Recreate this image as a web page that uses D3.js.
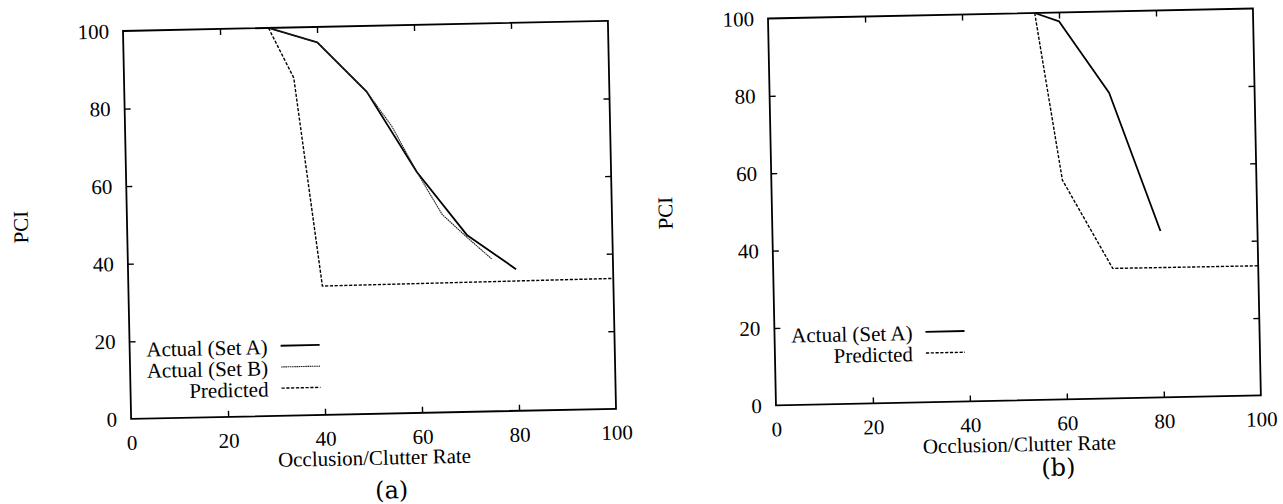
<!DOCTYPE html>
<html>
<head>
<meta charset="utf-8">
<script src="https://cdn.jsdelivr.net/npm/d3@7"></script>
<style>
  html, body { margin: 0; background: #fff; }
  svg text { font-family: "Liberation Serif", "Times New Roman", serif; fill: #000; }
</style>
</head>
<body>
<svg id="chart" width="1283" height="504"></svg>
<script>
// ---------- Data ----------
const xTicks = [0, 20, 40, 60, 80, 100];
const yTicks = [0, 20, 40, 60, 80, 100];

// panel (a)
const aSetA_x = [30, 40, 50, 60, 70, 80];
const aSetA_y = [100, 96, 83, 62, 45.6, 36.5];
const aSetB_x = [30, 40, 50, 55, 60, 65, 70, 75];
const aSetB_y = [100, 96, 83, 74, 62, 51, 45, 39.3];
const aPred_x = [30, 35, 40, 100];
const aPred_y = [100, 87, 33.2, 33.6];

// panel (b)
const bSetA_x = [55, 60, 70, 80];
const bSetA_y = [100, 97.7, 79, 43];
const bPred_x = [55, 60, 70, 100];
const bPred_y = [100, 56.7, 33.6, 33.5];

const xTitle = "Occlusion/Clutter Rate";
const yTitle = "PCI";

// ---------- Styles ----------
const styles = {
  setA: { width: 1.8, dash: null, color: "#000" },
  setB: { width: 1.1, dash: "1.6,0.6", color: "#222" },
  pred: { width: 1.4, dash: "3.2,1.6", color: "#000" }
};

const zip = (xs, ys) => xs.map((v, i) => [v, ys[i]]);

const panels = [
  {
    ox: 123, oy: 31, angle: -1.2, W: 485, H: 388,
    caption: "(a)", capX: 259, capY: 473, ylabX: -106.5, ylabY: 194,
    series: [
      { name: "Actual (Set A)", style: "setA", pts: zip(aSetA_x, aSetA_y) },
      { name: "Actual (Set B)", style: "setB", pts: zip(aSetB_x, aSetB_y) },
      { name: "Predicted", style: "pred", pts: zip(aPred_x, aPred_y) }
    ],
    legY: 318
  },
  {
    ox: 768, oy: 18.5, angle: -1.18, W: 485, H: 387,
    caption: "(b)", capX: 281, capY: 463, ylabX: -107, ylabY: 192.5,
    series: [
      { name: "Actual (Set A)", style: "setA", pts: zip(bSetA_x, bSetA_y) },
      { name: "Predicted", style: "pred", pts: zip(bPred_x, bPred_y) }
    ],
    legY: 316.5
  }
];

const svg = d3.select("#chart");

function drawPanel(p) {
  const g = svg.append("g").attr("transform", `translate(${p.ox},${p.oy}) rotate(${p.angle})`);
  const x = d3.scaleLinear().domain([0, 100]).range([0, p.W]);
  const y = d3.scaleLinear().domain([0, 100]).range([p.H, 0]);
  const inner = xTicks.slice(1, -1);
  const noDomain = s => s.select(".domain").remove();

  // inward ticks on all four sides
  g.append("g").attr("transform", `translate(0,${p.H})`)
    .call(d3.axisTop(x).tickValues(inner).tickSize(6).tickFormat("")).call(noDomain);
  g.append("g")
    .call(d3.axisBottom(x).tickValues(inner).tickSize(6).tickFormat("")).call(noDomain);
  g.append("g")
    .call(d3.axisRight(y).tickValues(yTicks.slice(1, -1)).tickSize(6).tickFormat("")).call(noDomain);
  g.append("g").attr("transform", `translate(${p.W},0)`)
    .call(d3.axisLeft(y).tickValues(yTicks.slice(1, -1)).tickSize(6).tickFormat("")).call(noDomain);
  g.selectAll(".tick line").attr("stroke", "#000").attr("stroke-width", 1.4);

  // tick labels
  const xl = g.append("g").attr("transform", `translate(0,${p.H})`)
    .call(d3.axisBottom(x).tickValues(xTicks).tickSize(0).tickPadding(16)).call(noDomain);
  const yl = g.append("g")
    .call(d3.axisLeft(y).tickValues(yTicks).tickSize(0).tickPadding(14)).call(noDomain);
  [xl, yl].forEach(a => a.selectAll("text")
    .style("font-family", '"Liberation Serif", serif').style("font-size", "21px").attr("fill", "#000"));

  // frame
  g.append("rect").attr("width", p.W).attr("height", p.H)
    .attr("fill", "none").attr("stroke", "#000").attr("stroke-width", 1.8);

  // series
  const line = d3.line().x(d => x(d[0])).y(d => y(d[1]));
  p.series.forEach(s => {
    const st = styles[s.style];
    g.append("path").datum(s.pts)
      .attr("fill", "none").attr("stroke", st.color).attr("stroke-width", st.width)
      .attr("stroke-dasharray", st.dash).attr("stroke-linejoin", "round")
      .attr("d", line);
  });

  // legend
  p.series.forEach((s, i) => {
    const st = styles[s.style];
    const ly = p.legY + i * 21.2;
    g.append("line").attr("x1", 151).attr("x2", 190).attr("y1", ly).attr("y2", ly)
      .attr("stroke", st.color).attr("stroke-width", st.width).attr("stroke-dasharray", st.dash);
    g.append("text").attr("x", 138).attr("y", ly + 8).attr("text-anchor", "end")
      .style("font-size", "21px").text(s.name);
  });

  // titles
  g.append("text").attr("x", p.W / 2).attr("y", p.H + 51).attr("text-anchor", "middle")
    .style("font-size", "21px").text(xTitle);
  g.append("text").attr("transform", `translate(${p.ylabX},${p.ylabY}) rotate(-90)`)
    .attr("text-anchor", "middle").attr("dy", "0.35em")
    .style("font-size", "21px").text(yTitle);
  g.append("text").attr("x", p.capX).attr("y", p.capY).attr("text-anchor", "middle")
    .style("font-family", '"DejaVu Serif", serif').style("font-size", "24px").text(p.caption);
}

panels.forEach(drawPanel);
</script>
</body>
</html>
